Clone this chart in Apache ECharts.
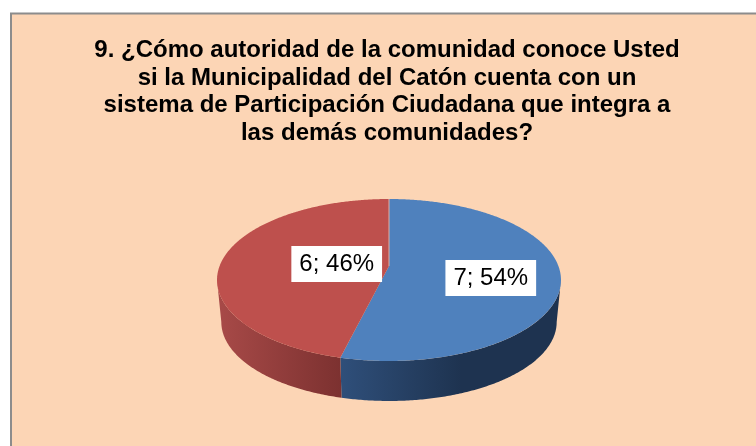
<!DOCTYPE html>
<html>
<head>
<meta charset="utf-8">
<style>
  html, body { margin: 0; padding: 0; background: #fff; }
  #chart { width: 756px; height: 446px; }
</style>
<script src="https://cdn.jsdelivr.net/npm/echarts@6/dist/echarts.min.js"></script>
</head>
<body>
<div id="chart"></div>
<script>
  var names = ['Si', 'No']
  var values = [7, 6]
  var percents = [54, 46]
  var titleLines = [
    '9. ¿Cómo autoridad de la comunidad conoce Usted',
    'si la Municipalidad del Catón cuenta con un',
    'sistema de Participación Ciudadana que integra a',
    'las demás comunidades?'
  ]
  var topColors = ['#4F81BD', '#BE504D']
  var wallStops = [
    [[0, '#1E3350'], [0.45, '#1E3350'], [1, '#2F4F7A']],
    [[0, '#A84A48'], [1, '#7C3130']]
  ]
  // where the label sits inside its slice
  var labelSpots = [{r: 0.605, shift: 6}, {r: 0.31, shift: 0}]

  // tilted disc, with a bit of perspective so the centre sits above the ellipse middle
  var cx = 389, cy = 280, ry = 81, backShift = -14, persp = -0.1728, rxFlat = 169.4
  var depth = 40, bottomScale = 0.975
  var total = values.reduce(function (a, b) { return a + b }, 0)
  // the rim turns away from the viewer at these angles
  var wallStart = Math.acos(persp), wallEnd = Math.PI * 2 - wallStart

  function project (ang, r) {
    var u = Math.sin(ang) * r
    var v = -Math.cos(ang) * r
    var d = 1 + persp * v
    return [rxFlat * u / d, (ry * v + backShift) / d]
  }
  function topPoint (ang, r) {
    var p = project(ang, r)
    return [cx + p[0], cy + p[1]]
  }
  function bottomPoint (ang) {
    var p = project(ang, 1)
    return [cx + p[0] * bottomScale, cy + depth + 2 + p[1] * bottomScale]
  }
  function arcPoints (from, to, fn) {
    var pts = []
    var steps = Math.max(2, Math.ceil(Math.abs(to - from) / 0.01))
    for (var i = 0; i <= steps; i++) pts.push(fn(from + (to - from) * i / steps))
    return pts
  }

  function renderSlice (params, api) {
    var i = params.dataIndex
    var start = 0
    for (var k = 0; k < i; k++) start += values[k]
    var from = start / total * Math.PI * 2
    var to = (start + api.value(0)) / total * Math.PI * 2
    var children = []

    // side wall, only the front part shows
    var wFrom = Math.max(from, wallStart)
    var wTo = Math.min(to, wallEnd)
    if (wTo > wFrom) {
      var upper = arcPoints(wFrom, wTo, function (a) { return topPoint(a, 1) })
      var lower = arcPoints(wFrom, wTo, bottomPoint).reverse()
      children.push({
        type: 'polygon',
        z2: 1,
        shape: {points: upper.concat(lower)},
        style: {
          // x runs right to left for the blue wall, left to right for the red one
          fill: new echarts.graphic.LinearGradient(
            i === 0 ? 1 : 0, 0, i === 0 ? 0 : 1, 0,
            wallStops[i].map(function (s) { return {offset: s[0], color: s[1]} })
          )
        }
      })
    }

    // top face
    var apex = topPoint(0, 0)
    var rim = arcPoints(from, to, function (a) { return topPoint(a, 1) })
    children.push({
      type: 'polygon',
      z2: 2,
      shape: {points: [apex].concat(rim)},
      style: {fill: topColors[i]}
    })

    // label box
    var mid = (from + to) / 2 + labelSpots[i].shift * Math.PI / 180
    var pos = topPoint(mid, labelSpots[i].r)
    children.push({
      type: 'text',
      z2: 5,
      x: pos[0] - 0.5,
      y: pos[1] + 1,
      style: {
        text: api.value(0) + '; ' + percents[i] + '%',
        fontFamily: '"Liberation Sans", Arial, sans-serif',
        fontSize: 24,
        fill: '#000',
        align: 'center',
        verticalAlign: 'middle',
        backgroundColor: '#fff',
        padding: [7, 8, 5, 8]
      }
    })
    return {type: 'group', children: children}
  }

  var chart = echarts.init(document.getElementById('chart'), null, {renderer: 'canvas'})
  chart.setOption({
    animation: false,
    backgroundColor: '#fff',
    graphic: [{
      type: 'rect',
      z: -1,
      shape: {x: 11, y: 13.5, width: 800, height: 500},
      style: {fill: '#FCD5B5', stroke: '#8C8C8C', lineWidth: 2}
    }, {
      // thin pale seam where the two slices start
      type: 'line',
      z: 10,
      shape: {x1: cx, y1: topPoint(0, 1)[1], x2: cx, y2: topPoint(0, 0)[1]},
      style: {stroke: '#DDB0A8', lineWidth: 1}
    }],
    title: {
      text: titleLines.join('\n'),
      left: 382,
      top: 32,
      textAlign: 'center',
      textStyle: {
        fontFamily: '"Liberation Sans", Arial, sans-serif',
        fontSize: 24,
        fontWeight: 'bold',
        color: '#000',
        lineHeight: 27.4
      }
    },
    series: [{
      type: 'custom',
      coordinateSystem: 'none',
      silent: true,
      renderItem: renderSlice,
      data: values.map(function (v, i) { return {name: names[i], value: [v]} })
    }]
  })
</script>
</body>
</html>
